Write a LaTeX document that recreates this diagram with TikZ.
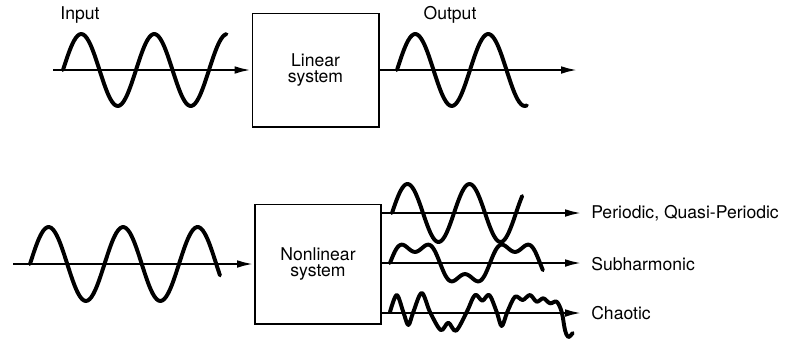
\documentclass[tikz,border=0pt]{standalone}
\usepackage{fontspec}
\setmainfont{TeX Gyre Heros}
\usetikzlibrary{arrows.meta}

\tikzset{
  sysbox/.style={draw, line width=1.4pt, minimum width=3.15cm, minimum height=2.825cm,
    inner sep=0pt, align=center, font=\fontsize{12.5}{11.5}\selectfont},
  axisline/.style={line width=1.8pt, -{Latex[length=4.2mm,width=1.9mm]}},
  wave/.style={line width=2.8pt, line cap=round, line join=round},
  tag/.style={font=\fontsize{12.5}{14}\selectfont, inner sep=0pt}
}

\begin{document}
\begin{tikzpicture}[x=0.025cm, y=-0.025cm]
  \useasboundingbox (0,0) rectangle (788,343);
  % linear system
  \node[sysbox] (linsys) at (315.5,70) {Linear\\system};
  \coordinate (inA) at (53,70);
  \coordinate (outA) at (578,70);
  \draw[axisline] (inA) -- (linsys.west);
  \draw[axisline] (linsys.east) -- (outA);
  \draw[wave] plot[domain=0:2.24, samples=90, smooth] ({63+73*\x}, {70-36*sin(360*\x)});
  \draw[wave] plot[domain=0:1.78, samples=70, smooth] ({397+73*\x}, {70-36*sin(360*\x)});
  \node[tag] (intag) at (80,15) {Input};
  \node[tag] (outtag) at (450,15) {Output};
  % nonlinear system
  \node[sysbox, minimum height=2.975cm] (nonlinsys) at (318,264) {Nonlinear\\system};
  \coordinate (inB) at (13,264);
  \draw[axisline] (inB) -- (nonlinsys.west);
  \draw[wave] plot[domain=0:2.55, samples=100, smooth] ({30+74.5*\x}, {264-37*sin(360*\x)});
  \coordinate (outP) at (582,213);
  \coordinate (outS) at (582,263);
  \coordinate (outC) at (582,313);
  \draw[axisline] (nonlinsys.east |- outP) -- (outP);
  \draw[axisline] (nonlinsys.east |- outS) -- (outS);
  \draw[axisline] (nonlinsys.east |- outC) -- (outC);
  \draw[wave] plot[domain=0:2.1, samples=90, smooth] ({392+62*\x}, {213-29*sin(360*\x)});
  \draw[wave] plot[domain=0:1.53, samples=120, smooth]
    ({390+100*\x}, {263-18.5*(sin(360*\x)+0.4*sin(1080*\x))});
  \draw[wave] plot[smooth, tension=0.55] coordinates {
    (390,312) (396.7,295) (403.3,312) (408.3,325) (413.3,312) (421.7,293)
    (430,312) (440.7,330) (448.3,322.7) (456,330.7) (466.7,312) (475,295)
    (482.3,300.7) (489.3,295) (496.7,312) (501.7,326) (507.3,312) (515,296.7)
    (522.7,300) (530,295) (536.7,301.7) (543.3,298.3) (550,303.3) (556.7,301.7)
    (561.7,312) (565,330) (568.3,337) (572.7,333)};
  \node[tag, anchor=west] (pertag) at (591,213) {Periodic, Quasi-Periodic};
  \node[tag, anchor=west] (subtag) at (591,264) {Subharmonic};
  \node[tag, anchor=west] (chaotag) at (591,313) {Chaotic};
\end{tikzpicture}
\end{document}
